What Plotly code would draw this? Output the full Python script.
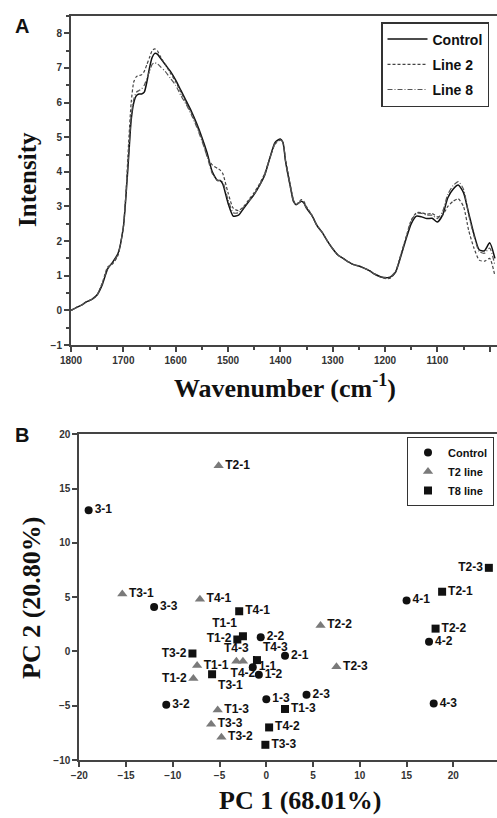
import plotly.graph_objects as go

# ---------------- Panel A data (FTIR spectra) ----------------
wavenumber = [1800, 1790, 1780, 1770, 1760, 1750, 1740, 1730, 1720, 1710, 1700, 1695, 1690, 1685,
              1680, 1675, 1670, 1665, 1660, 1655, 1650, 1645, 1640, 1635, 1630, 1620, 1610, 1600,
              1590, 1580, 1570, 1560, 1550, 1540, 1530, 1520, 1515, 1510, 1500, 1490, 1480, 1470,
              1460, 1450, 1440, 1430, 1420, 1410, 1400, 1395, 1390, 1380, 1375, 1370, 1360, 1355,
              1350, 1340, 1330, 1320, 1310, 1300, 1290, 1280, 1270, 1260, 1250, 1240, 1230, 1220,
              1210, 1200, 1190, 1180, 1170, 1160, 1150, 1140, 1130, 1120, 1110, 1100, 1090, 1080,
              1070, 1060, 1050, 1040, 1030, 1020, 1010, 1000, 990]

control = [0.00, 0.08, 0.15, 0.25, 0.32, 0.45, 0.75, 1.20, 1.40, 1.65, 2.40, 3.30, 4.40, 5.50,
           6.00, 6.20, 6.25, 6.25, 6.30, 6.60, 7.00, 7.30, 7.42, 7.40, 7.30, 7.10, 6.90, 6.65,
           6.35, 6.05, 5.75, 5.40, 5.00, 4.55, 4.00, 3.75, 3.75, 3.65, 3.10, 2.72, 2.75, 2.95,
           3.15, 3.35, 3.60, 3.90, 4.40, 4.85, 4.95, 4.85, 4.30, 3.50, 3.15, 3.05, 3.15, 3.10,
           2.95, 2.75, 2.45, 2.25, 2.00, 1.78, 1.60, 1.50, 1.40, 1.32, 1.28, 1.22, 1.15, 1.05,
           0.98, 0.94, 0.96, 1.10, 1.55, 2.05, 2.50, 2.72, 2.70, 2.65, 2.66, 2.55, 2.75, 3.25,
           3.50, 3.62, 3.40, 2.80, 2.20, 1.75, 1.72, 1.95, 1.50]

line2 = [0.00, 0.08, 0.15, 0.25, 0.32, 0.45, 0.80, 1.25, 1.35, 1.60, 2.40, 3.40, 4.80, 6.00,
         6.60, 6.75, 6.78, 6.80, 6.90, 7.10, 7.30, 7.50, 7.55, 7.50, 7.35, 7.10, 6.85, 6.60,
         6.30, 6.00, 5.70, 5.35, 4.95, 4.45, 4.20, 4.10, 4.05, 3.95, 3.40, 2.95, 2.88, 3.00,
         3.20, 3.40, 3.65, 3.95, 4.40, 4.80, 4.92, 4.85, 4.35, 3.55, 3.20, 3.05, 3.20, 3.15,
         3.00, 2.75, 2.45, 2.25, 2.00, 1.78, 1.60, 1.50, 1.40, 1.32, 1.28, 1.22, 1.15, 1.05,
         0.97, 0.92, 0.93, 1.10, 1.60, 2.10, 2.60, 2.82, 2.82, 2.78, 2.80, 2.70, 2.75, 3.00,
         3.15, 3.22, 3.00, 2.30, 1.80, 1.45, 1.42, 1.50, 1.00]

line8 = [0.00, 0.08, 0.15, 0.25, 0.32, 0.45, 0.78, 1.22, 1.38, 1.62, 2.40, 3.35, 4.50, 5.60,
         6.10, 6.30, 6.35, 6.40, 6.50, 6.70, 6.90, 7.10, 7.15, 7.12, 7.05, 6.90, 6.70, 6.50,
         6.20, 5.95, 5.65, 5.30, 4.90, 4.45, 3.95, 3.75, 3.75, 3.70, 3.20, 2.82, 2.82, 2.98,
         3.15, 3.35, 3.60, 3.90, 4.40, 4.82, 4.92, 4.85, 4.30, 3.50, 3.15, 3.05, 3.15, 3.10,
         2.95, 2.75, 2.45, 2.25, 2.00, 1.78, 1.60, 1.50, 1.40, 1.32, 1.28, 1.22, 1.15, 1.05,
         0.98, 0.95, 0.97, 1.12, 1.58, 2.10, 2.58, 2.80, 2.80, 2.75, 2.75, 2.65, 2.85, 3.35,
         3.60, 3.72, 3.50, 2.75, 2.15, 1.70, 1.65, 1.80, 1.30]

# ---------------- Panel B data (PCA scores) ----------------
ctrl_names = ["1-1", "1-2", "1-3", "2-1", "2-2", "2-3", "3-1", "3-2", "3-3", "4-1", "4-2", "4-3"]
ctrl_pc1 = [-1.45, -0.8, 0.0, 2.0, -0.6, 4.3, -19.0, -10.7, -12.0, 15.0, 17.4, 17.9]
ctrl_pc2 = [-1.45, -2.15, -4.4, -0.4, 1.3, -4.0, 13.0, -4.9, 4.1, 4.7, 0.9, -4.8]

t2_names = ["T1-1", "T1-2", "T1-3", "T2-1", "T2-2", "T2-3", "T3-1", "T3-2", "T3-3", "T4-1", "T4-2", "T4-3"]
t2_pc1 = [-7.4, -7.8, -5.2, -5.1, 5.8, 7.5, -15.4, -4.8, -5.9, -7.1, -2.5, -3.2]
t2_pc2 = [-1.3, -2.5, -5.4, 17.1, 2.4, -1.4, 5.3, -7.9, -6.7, 4.8, -0.9, -0.9]

t8_names = ["T1-1", "T1-2", "T1-3", "T2-1", "T2-2", "T2-3", "T3-1", "T3-2", "T3-3", "T4-1", "T4-2", "T4-3"]
t8_pc1 = [-2.5, -3.1, 2.0, 18.8, 18.1, 23.8, -5.8, -7.9, -0.1, -2.9, 0.3, -1.0]
t8_pc2 = [1.4, 1.1, -5.3, 5.5, 2.1, 7.7, -2.1, -0.2, -8.6, 3.7, -7.0, -0.8]

# label placement (style)
ctrl_pos = ["middle right"] * 12
t2_pos = ["middle right", "middle left", "middle right", "middle right", "middle right", "middle right",
          "middle right", "middle right", "middle right", "middle right", "bottom center", "top center"]
t8_pos = ["top left", "middle left", "middle right", "middle right", "middle right", "middle left",
          "bottom right", "middle left", "middle right", "middle right", "middle right", "top right"]

W, H = 497, 818
def px(x):
    return x / W
def py(y):
    return 1 - y / H

fig = go.Figure()

lbl_font = dict(family="Liberation Sans", size=14, color="#111", weight="bold")
fig.add_trace(go.Scatter(x=wavenumber, y=control, mode="lines", name="Control",
                         line=dict(color="#111", width=1.5, shape="spline", smoothing=0.6),
                         xaxis="x", yaxis="y", legend="legend", legendgroup="a1"))
fig.add_trace(go.Scatter(x=wavenumber, y=line2, mode="lines", name="Line 2",
                         line=dict(color="#444", width=1.2, dash="3px,2px", shape="spline", smoothing=0.6),
                         xaxis="x", yaxis="y", legend="legend", legendgroup="a2"))
fig.add_trace(go.Scatter(x=wavenumber, y=line8, mode="lines", name="Line 8",
                         line=dict(color="#555", width=1.2, dash="5px,2px,1px,2px", shape="spline", smoothing=0.6),
                         xaxis="x", yaxis="y", legend="legend", legendgroup="a3"))

pt_font = dict(family="Liberation Sans", size=12, color="#111", weight="bold")
fig.add_trace(go.Scatter(x=ctrl_pc1, y=ctrl_pc2, mode="markers+text", name="Control",
                         text=ctrl_names, textposition=ctrl_pos, textfont=pt_font,
                         marker=dict(symbol="circle", size=8, color="#111"),
                         xaxis="x2", yaxis="y2", legend="legend2", legendgroup="b1"))
fig.add_trace(go.Scatter(x=t2_pc1, y=t2_pc2, mode="markers+text", name="T2 line",
                         text=t2_names, textposition=t2_pos, textfont=pt_font,
                         marker=dict(symbol="triangle-up", size=9, color="#7a7a7a"),
                         xaxis="x2", yaxis="y2", legend="legend2", legendgroup="b2"))
fig.add_trace(go.Scatter(x=t8_pc1, y=t8_pc2, mode="markers+text", name="T8 line",
                         text=t8_names, textposition=t8_pos, textfont=pt_font,
                         marker=dict(symbol="square", size=8, color="#111"),
                         xaxis="x2", yaxis="y2", legend="legend2", legendgroup="b3"))

tick_font = dict(family="Liberation Sans", size=10, color="#333", weight="bold")
axis_common = dict(showline=True, linecolor="#444", linewidth=2, ticks="outside",
                   tickcolor="#444", tickwidth=2, ticklen=5, showgrid=False, zeroline=False,
                   tickfont=tick_font)

fig.update_layout(
    width=W, height=H, margin=dict(l=0, r=0, t=0, b=0, autoexpand=False),
    paper_bgcolor="white", plot_bgcolor="white",
    xaxis=dict(domain=[px(71), 1], range=[1800, 986], tickvals=[1800, 1700, 1600, 1500, 1400, 1300, 1200, 1100, 1000],
               minor=dict(dtick=50, tick0=1800, ticks="outside", ticklen=3, tickcolor="#444", tickwidth=2),
               mirror=True, anchor="y", **axis_common),
    yaxis=dict(domain=[py(345), py(16)], range=[-1, 8.5], dtick=1, tick0=0,
               minor=dict(dtick=0.5, tick0=0, ticks="outside", ticklen=3, tickcolor="#444", tickwidth=2),
               anchor="x", **axis_common),
    xaxis2=dict(domain=[px(79.3), 1], range=[-20, 24.67], dtick=5, tick0=0, mirror=True, anchor="y2",
                **axis_common),
    yaxis2=dict(domain=[py(760), py(434.3)], range=[-10, 20], dtick=5, tick0=0, anchor="x2",
                **axis_common),
    legend=dict(x=px(381), y=py(22), xanchor="left", yanchor="top", bordercolor="#333", borderwidth=1.5,
                font=lbl_font, tracegroupgap=4, bgcolor="white", itemwidth=40,
                entrywidth=80),
    legend2=dict(x=px(407), y=py(437), xanchor="left", yanchor="top", bordercolor="#333", borderwidth=1,
                 font=dict(family="Liberation Sans", size=11, color="#111", weight="bold"),
                 tracegroupgap=0, bgcolor="white", itemwidth=30, entrywidth=70),
    showlegend=True,
)

title_font = dict(family="Liberation Serif", size=25, color="#111", weight="bold")
big_font = dict(family="Liberation Serif", size=26, color="#111", weight="bold")
ann = dict(xref="paper", yref="paper", showarrow=False, xanchor="center", yanchor="middle")
fig.add_annotation(text="Intensity", x=px(27), y=py(180), textangle=-90, font=title_font, **ann)
fig.add_annotation(text="Wavenumber (cm<sup>-1</sup>)", x=px(285), y=py(386), font=big_font, **ann)
fig.add_annotation(text="PC 2 (20.80%)", x=px(31), y=py(598), textangle=-90, font=big_font, **ann)
fig.add_annotation(text="PC 1 (68.01%)", x=px(300), y=py(800), font=big_font, **ann)
letter_font = dict(family="Liberation Sans", size=20, color="#111", weight="bold")
fig.add_annotation(text="A", x=px(22), y=py(26), font=letter_font, **ann)
fig.add_annotation(text="B", x=px(22), y=py(435), font=letter_font, **ann)

fig.write_html("out.html")
